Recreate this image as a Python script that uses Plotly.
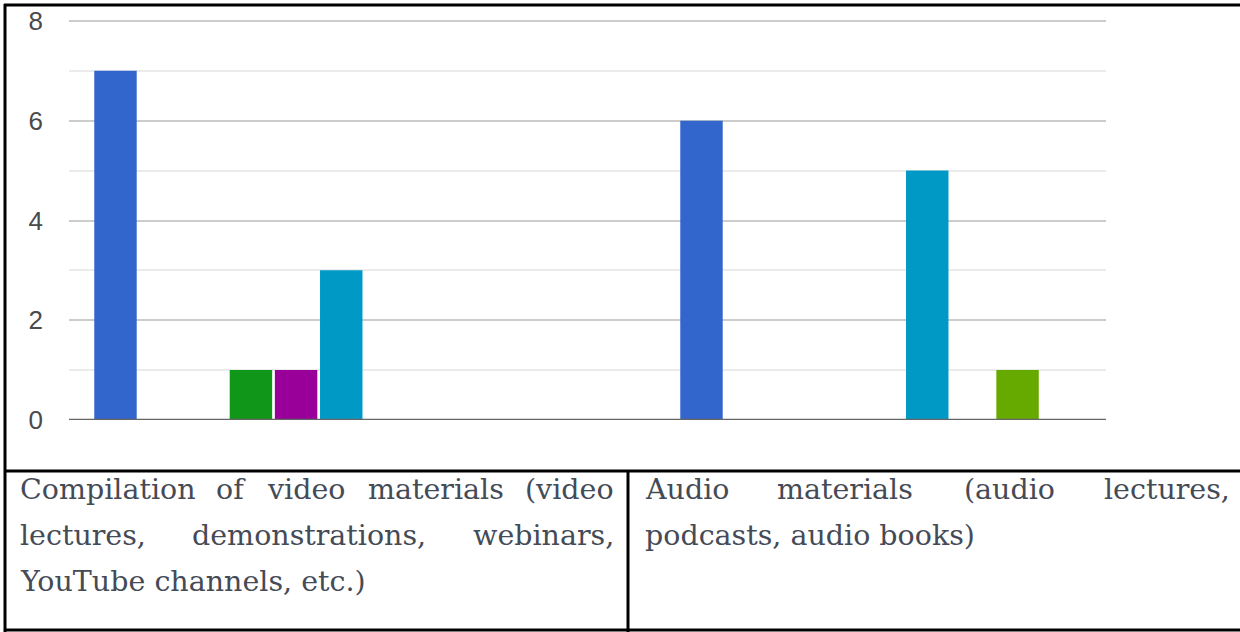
import glob
import plotly.graph_objects as go

# Categories (shown as the table row under the chart)
categories = [
    "Compilation of video materials (video lectures, demonstrations, webinars, YouTube channels, etc.)",
    "Audio materials (audio lectures, podcasts, audio books)",
]
# Lines of each table cell as laid out, with a flag for justified lines
cell_lines = [
    [("Compilation of video materials (video", True),
     ("lectures, demonstrations, webinars,", True),
     ("YouTube channels, etc.)", False)],
    [("Audio materials (audio lectures,", True),
     ("podcasts, audio books)", False)],
]

series_names = ["Response 1", "Response 2", "Response 3", "Response 4",
                "Response 5", "Response 6", "Response 7", "Response 8"]
series_colors = ["#3366cc", "#dc3912", "#ff9900", "#109618",
                 "#990099", "#0099c6", "#dd4477", "#66aa00"]
# values[s] = [video, audio]
values = [
    [7, 6],
    [0, 0],
    [0, 0],
    [1, 0],
    [1, 0],
    [3, 5],
    [0, 0],
    [0, 1],
]
y_ticks = [0, 2, 4, 6, 8]

W, H = 1240, 632


def px(x):
    return x / W


def py(y):
    return 1 - y / H


TEXT_SIZE = 28.5

# word widths for justified lines: measured with the font file when possible
_measure = None
try:
    from PIL import ImageFont
    paths = glob.glob("/usr/share/fonts/**/DejaVuSerif.ttf", recursive=True)
    if paths:
        _pil_font = ImageFont.truetype(paths[0], size=100)
        _measure = lambda s: _pil_font.getlength(s) * TEXT_SIZE / 100
except Exception:
    _measure = None
if _measure is None:
    _measure = lambda s: len(s) * TEXT_SIZE * 0.55


fig = go.Figure()
for name, color, vals in zip(series_names, series_colors, values):
    fig.add_trace(go.Bar(
        x=categories, y=vals, name=name,
        marker=dict(color=color, line=dict(width=0)),
    ))

fig.update_layout(
    width=W, height=H,
    margin=dict(l=0, r=0, t=0, b=0, autoexpand=False),
    paper_bgcolor="white", plot_bgcolor="white",
    barmode="group", bargap=0.3836, bargroupgap=0.06,
    showlegend=False,
    xaxis=dict(
        domain=[px(69), px(1106)],
        type="category",
        range=[-0.349, 1.4206],
        automargin=False,
        showticklabels=False, showgrid=False, zeroline=False, showline=False,
        ticks="",
    ),
    yaxis=dict(
        # top of the range sits a little above 8 so its gridline is kept
        domain=[py(420), py(18)],
        range=[0, 8.06],
        automargin=False,
        tickvals=y_ticks,
        ticktext=[str(v) for v in y_ticks],
        tickfont=dict(family="Arial, Liberation Sans, sans-serif", size=26, color="#4a4a4a"),
        ticklabelstandoff=25,
        showgrid=True, gridcolor="#cccccc", gridwidth=2,
        minor=dict(dtick=1, showgrid=True, gridcolor="#ebebeb", gridwidth=2, ticks=""),
        zeroline=False, showline=False, ticks="",
    ),
)

# baseline of the bar chart
fig.add_shape(type="line", xref="paper", yref="y", x0=px(69), x1=px(1106), y0=0, y1=0,
              line=dict(color="#666666", width=2.5), layer="above")

# frame and table rules
black = dict(color="black", width=3)
rules = [
    (4, 5, 1240, 5),
    (5, 4, 5, 632),
    (5, 471, 1240, 471),
    (628, 471, 628, 632),
    (5, 630, 1240, 630),
]
for x0, y0, x1, y1 in rules:
    fig.add_shape(type="line", xref="paper", yref="paper",
                  x0=px(x0), y0=py(y0), x1=px(x1), y1=py(y1), line=black, layer="above")

# table cell text, justified lines spread word by word
text_font = dict(family="DejaVu Serif, serif", size=TEXT_SIZE, color="#454b56")
cell_bounds = [(18, 616), (643, 1232)]
line_y = [489, 535, 581]

for (left, right), lines in zip(cell_bounds, cell_lines):
    for i, (line, justify) in enumerate(lines):
        y = py(line_y[i])
        if not justify:
            fig.add_annotation(text=line, xref="paper", yref="paper", x=px(left), y=y,
                               xanchor="left", yanchor="middle", showarrow=False, font=text_font)
            continue
        words = line.split(" ")
        widths = [_measure(w) for w in words]
        gap = (right - left - sum(widths)) / (len(words) - 1)
        xpos = left
        for j, (w, wd) in enumerate(zip(words, widths)):
            if j == 0:
                x, anchor = xpos, "left"
            elif j == len(words) - 1:
                x, anchor = right, "right"
            else:
                x, anchor = xpos + wd / 2, "center"
            fig.add_annotation(text=w, xref="paper", yref="paper", x=px(x), y=y,
                               xanchor=anchor, yanchor="middle", showarrow=False, font=text_font)
            xpos += wd + gap

fig.write_html("out.html")
